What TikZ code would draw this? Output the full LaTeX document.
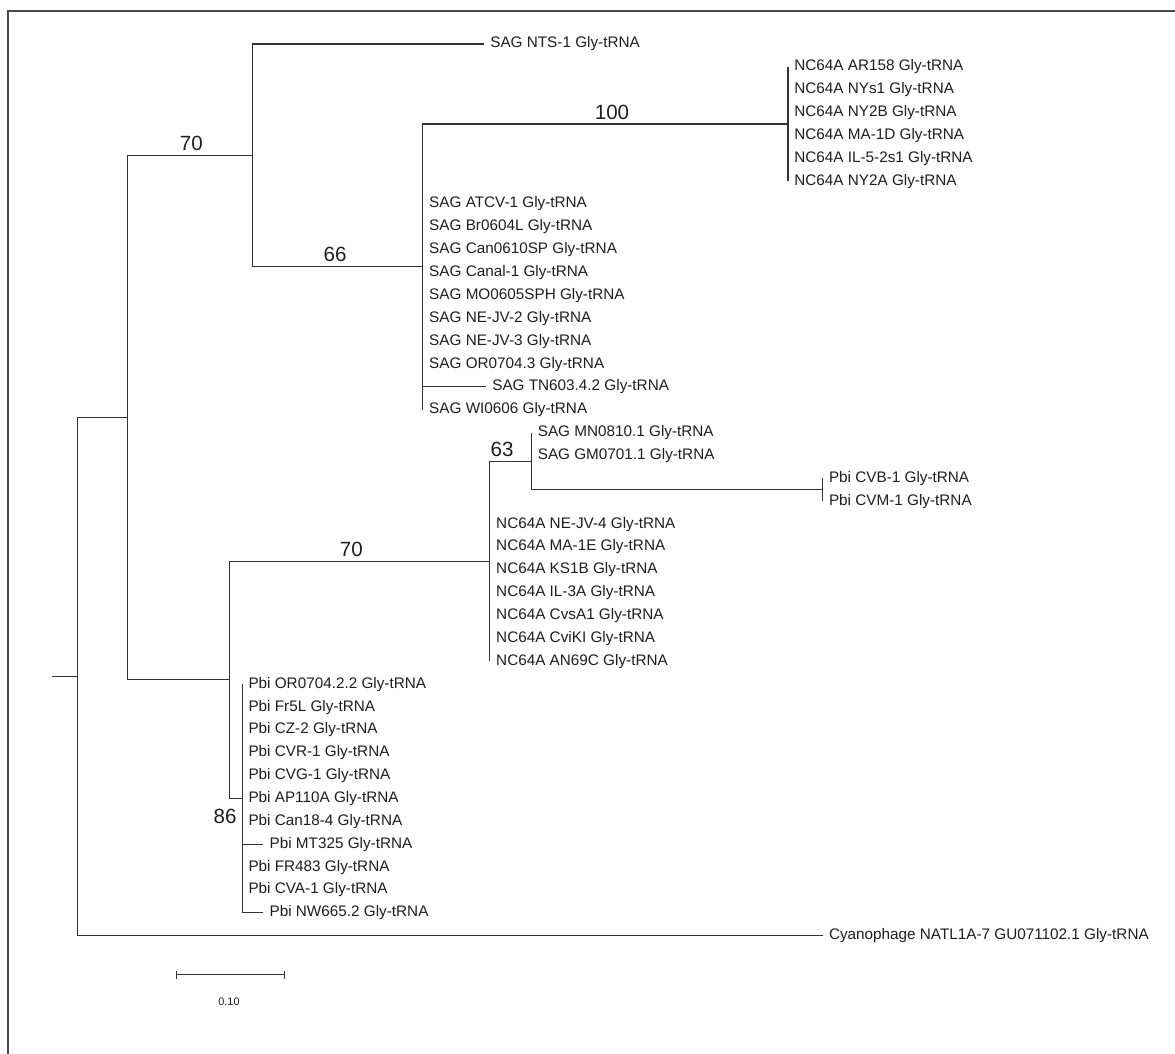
\documentclass[tikz,border=0pt]{standalone}
\usepackage{fontspec}
\setmainfont{Liberation Sans}
\usetikzlibrary{arrows.meta}
\definecolor{treeLine}{HTML}{333333}
\definecolor{labelText}{HTML}{1E1E1E}
\definecolor{frameGrey}{HTML}{4A4A4A}

\tikzset{
  branch/.style={draw=treeLine, line width=0.6pt},
  leaf/.style={anchor=west, inner xsep=3.4pt, inner ysep=0pt, text=labelText,
    font=\fontsize{8.7}{10}\selectfont},
  boot/.style={above, inner sep=2.5pt, text=labelText, font=\fontsize{11.7}{13}\selectfont},
}

\begin{document}
\begin{tikzpicture}[x=0.02cm, y=-0.4574cm]
  \useasboundingbox (0,-1.924) rectangle (1175,44.163);
  % frame
  \draw[frameGrey, line width=0.7pt] (8,44.163) -- (8,-1.443) -- (1175,-1.443);

  % internal nodes (x in px, y in leaf rows)
  \coordinate (stub) at (51.7, 27.67);
  \coordinate (root) at (77.7, 27.67);
  \coordinate (nA) at (127.4, 16.34);
  \coordinate (nB) at (252.6, 4.875);
  \coordinate (nC) at (422.9, 9.75);
  \coordinate (nD) at (788, 3.5);
  \coordinate (nE) at (229.6, 27.8125);
  \coordinate (nF) at (489.9, 22.625);
  \coordinate (nG) at (531.5, 18.25);
  \coordinate (nH) at (822.7, 19.5);
  \coordinate (nI) at (242.2, 33);

  \draw[branch] (stub) -- (root);
  \draw[branch] (root) |- (nA);
  \draw[branch] (nA) |- (nB);
  \draw[branch] (nB) |- (nC);
  \draw[branch] (nC) |- (nD);
  \draw[branch] (nA) |- (nE);
  \draw[branch] (nE) |- (nF);
  \draw[branch] (nF) |- (nG);
  \draw[branch] (nG) |- (nH);
  \draw[branch] (nE) |- (nI);

  % leaves
  \node[leaf] (nts) at (484, 0) {SAG NTS-1 Gly-tRNA};
  \draw[branch] (nB) |- (nts.west);

  \foreach \name [count=\i from 1] in {AR158, NYs1, NY2B, MA-1D, IL-5-2s1, NY2A} {
    \node[leaf] (nca\i) at (788, \i) {NC64A \name\ Gly-tRNA};
    \draw[branch] (nD) |- (nca\i.west);
  }

  \foreach \name/\tx [count=\i from 7] in {ATCV-1/422.9, Br0604L/422.9, Can0610SP/422.9,
      Canal-1/422.9, MO0605SPH/422.9, NE-JV-2/422.9, NE-JV-3/422.9, OR0704.3/422.9,
      TN603.4.2/486, WI0606/422.9} {
    \node[leaf] (sag\i) at (\tx, \i) {SAG \name\ Gly-tRNA};
    \draw[branch] (nC) |- (sag\i.west);
  }

  \node[leaf] (mn) at (531.5, 17) {SAG MN0810.1 Gly-tRNA};
  \node[leaf] (gm) at (531.5, 18) {SAG GM0701.1 Gly-tRNA};
  \draw[branch] (nG) |- (mn.west);
  \draw[branch] (nG) |- (gm.west);

  \node[leaf] (cvb) at (822.7, 19) {Pbi CVB-1 Gly-tRNA};
  \node[leaf] (cvm) at (822.7, 20) {Pbi CVM-1 Gly-tRNA};
  \draw[branch] (nH) |- (cvb.west);
  \draw[branch] (nH) |- (cvm.west);

  \foreach \name [count=\i from 21] in {NE-JV-4, MA-1E, KS1B, IL-3A, CvsA1, CviKI, AN69C} {
    \node[leaf] (ncb\i) at (489.9, \i) {NC64A \name\ Gly-tRNA};
    \draw[branch] (nF) |- (ncb\i.west);
  }

  \foreach \name/\tx [count=\i from 28] in {OR0704.2.2/242.2, Fr5L/242.2, CZ-2/242.2,
      CVR-1/242.2, CVG-1/242.2, AP110A/242.2, Can18-4/242.2, MT325/263.3,
      FR483/242.2, CVA-1/242.2, NW665.2/263.3} {
    \node[leaf] (pbi\i) at (\tx, \i) {Pbi \name\ Gly-tRNA};
    \draw[branch] (nI) |- (pbi\i.west);
  }

  \node[leaf] (cyan) at (822.7, 39) {Cyanophage NATL1A-7 GU071102.1 Gly-tRNA};
  \draw[branch] (root) |- (cyan.west);

  % bootstrap values
  \node[boot] (b70a) at (191.4, 4.875) {70};
  \node[boot] (b66) at (335, 9.75) {66};
  \node[boot] (b100) at (612, 3.5) {100};
  \node[boot] (b70b) at (351.3, 22.625) {70};
  \node[boot] (b63) at (502, 18.25) {63};
  \node[text=labelText, font=\fontsize{11.7}{13}\selectfont] (b86) at (225, 33.79) {86};

  % scale bar
  \coordinate (sbL) at (175.7, 40.71);
  \coordinate (sbR) at (285, 40.71);
  \draw[branch, {Bar[width=4.5pt]}-{Bar[width=4.5pt]}] (sbL) -- (sbR);
  \node[text=labelText, font=\fontsize{6.2}{7}\selectfont] (sbtext) at (229, 41.9) {0.10};
\end{tikzpicture}
\end{document}
